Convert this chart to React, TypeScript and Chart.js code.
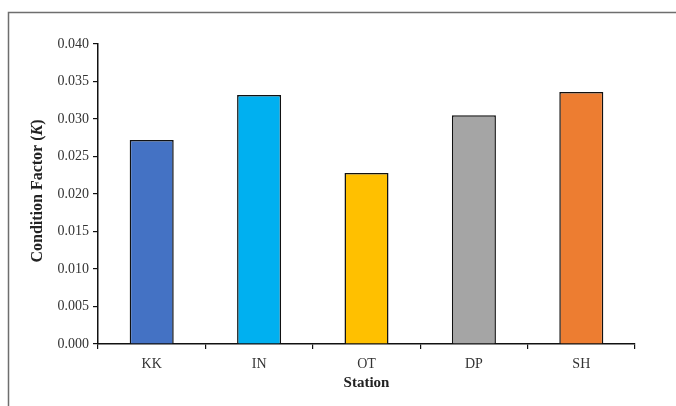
import React, { useEffect, useRef } from "react";
import { Chart, registerables } from "chart.js";

Chart.register(...registerables);

const categories = ["KK", "IN", "OT", "DP", "SH"];
const conditionFactor = [0.0272, 0.0332, 0.0228, 0.0305, 0.0336];
const barColors = ["#4472C4", "#00B0F0", "#FFC000", "#A5A5A5", "#ED7D31"];
const yTickMin = 0;
const yTickMax = 0.04;
const yTickStep = 0.005;
const xTitle = "Station";
const yTitleParts = [
  { text: "Condition Factor (", italic: false },
  { text: "K", italic: true },
  { text: ")", italic: false },
];

const SERIF = "'Liberation Serif', 'Times New Roman', serif";

const framePlugin = {
  id: "frameAndTitles",
  beforeDraw(chart: any) {
    const ctx = chart.ctx;
    ctx.save();
    ctx.fillStyle = "#ffffff";
    ctx.fillRect(0, 0, chart.width, chart.height);
    ctx.strokeStyle = "#6e6e6e";
    ctx.lineWidth = 1.5;
    ctx.beginPath();
    ctx.moveTo(8.5, chart.height);
    ctx.lineTo(8.5, 12.5);
    ctx.lineTo(chart.width, 12.5);
    ctx.stroke();
    ctx.restore();
  },
  afterDraw(chart: any) {
    const ctx = chart.ctx;
    const area = chart.chartArea;
    ctx.save();
    // x title
    ctx.fillStyle = "#222";
    ctx.font = `bold 15px ${SERIF}`;
    ctx.textAlign = "center";
    ctx.textBaseline = "middle";
    ctx.fillText(xTitle, (area.left + area.right) / 2, 383);
    // y title (rotated, mixed styles)
    const cy = (area.top + area.bottom) / 2 - 3;
    ctx.translate(38, cy);
    ctx.rotate(-Math.PI / 2);
    ctx.textAlign = "left";
    let total = 0;
    const fonts = yTitleParts.map((p) =>
      p.italic ? `italic bold 16px ${SERIF}` : `bold 16px ${SERIF}`
    );
    yTitleParts.forEach((p, i) => {
      ctx.font = fonts[i];
      total += ctx.measureText(p.text).width;
    });
    let x = -total / 2;
    yTitleParts.forEach((p, i) => {
      ctx.font = fonts[i];
      ctx.fillText(p.text, x, 0);
      x += ctx.measureText(p.text).width;
    });
    ctx.restore();
  },
};

export default function App() {
  const ref = useRef<HTMLCanvasElement | null>(null);
  useEffect(() => {
    if (!ref.current) return;
    const chart = new Chart(ref.current, {
      type: "bar",
      data: {
        labels: categories,
        datasets: [
          {
            data: conditionFactor,
            backgroundColor: barColors,
            borderColor: "#111",
            borderWidth: 1.5,
            borderSkipped: "start",
            barPercentage: 0.41,
            categoryPercentage: 1,
          },
        ],
      },
      options: {
        responsive: false,
        animation: false,
        layout: { padding: { left: 0, top: 44, right: 41, bottom: 0 } },
        plugins: {
          legend: { display: false },
          tooltip: { enabled: false },
          title: { display: false },
        },
        scales: {
          x: {
            offset: true,
            afterFit: (s: any) => {
              s.height = 62;
            },
            grid: {
              offset: true,
              drawOnChartArea: false,
              drawTicks: true,
              tickLength: 5,
              color: "#111",
              lineWidth: 1.2,
            },
            border: { display: true, color: "#111", width: 1.5 },
            ticks: {
              color: "#333",
              font: { family: SERIF, size: 14 },
              padding: 7,
            },
          },
          y: {
            min: yTickMin,
            max: yTickMax,
            afterFit: (s: any) => {
              s.width = 98;
            },
            grid: {
              drawOnChartArea: false,
              drawTicks: true,
              tickLength: 5,
              color: "#111",
              lineWidth: 1.2,
            },
            border: { display: true, color: "#111", width: 1.5 },
            ticks: {
              stepSize: yTickStep,
              color: "#333",
              font: { family: SERIF, size: 14 },
              padding: 4,
              callback: (v: any) => Number(v).toFixed(3),
            },
          },
        },
      },
      plugins: [framePlugin],
    });
    return () => chart.destroy();
  }, []);
  return (
    <div style={{ position: "absolute", left: 0, top: 0, width: 676, height: 406 }}>
      <canvas ref={ref} width={676} height={406} style={{ width: 676, height: 406 }} />
    </div>
  );
}
